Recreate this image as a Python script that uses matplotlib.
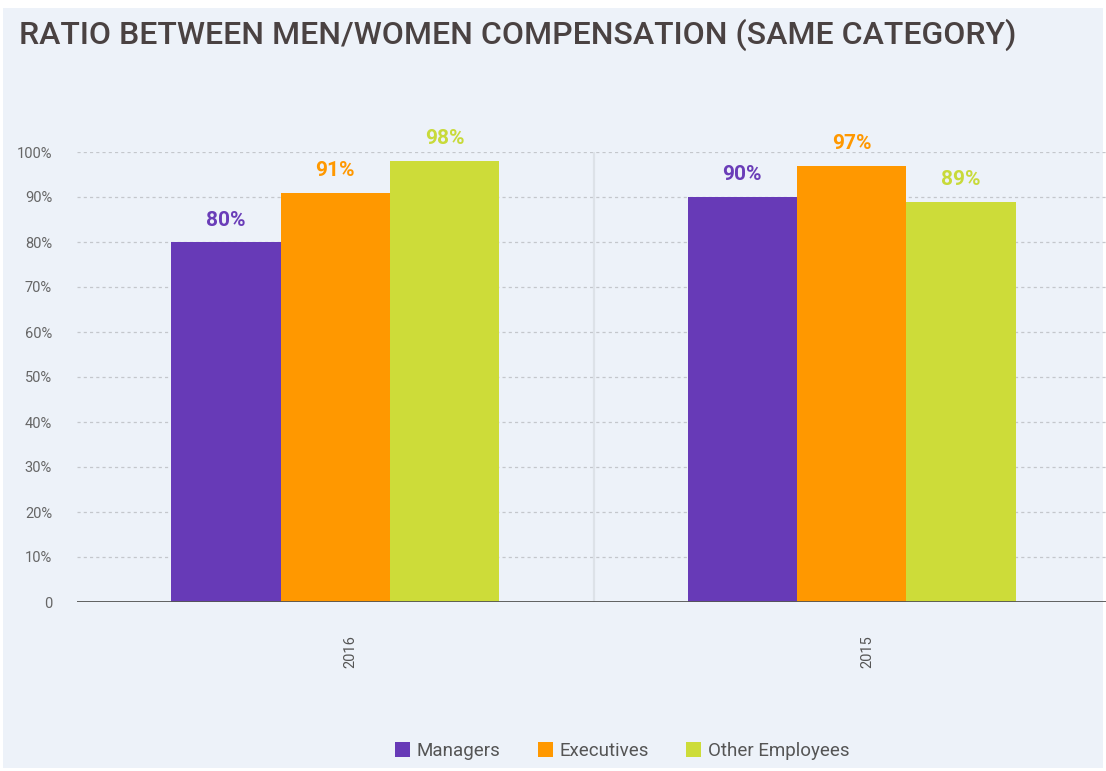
import numpy as np
import matplotlib.pyplot as plt
from matplotlib.patches import Rectangle

plt.rcParams['font.family'] = ['Roboto', 'DejaVu Sans']

# ratio of men/women pay per category (%)
years = ['2016', '2015']
series = ['Managers', 'Executives', 'Other Employees']
managers = [80, 90]
executives = [91, 97]
other_employees = [98, 89]
colors = ['#673AB7', '#FF9800', '#CDDC39']
label_colors = ['#6A3DB8', '#FF9800', '#C8DA3A']
y_ticks = [0, 10, 20, 30, 40, 50, 60, 70, 80, 90, 100]
y_tick_labels = ['0', '10%', '20%', '30%', '40%', '50%', '60%', '70%', '80%', '90%', '100%']

W, H = 1106, 771
bg = '#EDF2F9'
fig = plt.figure(figsize=(W / 100, H / 100), dpi=100)
fig.patch.set_facecolor('white')
fig.add_artist(Rectangle((3 / W, 3 / H), (W - 6) / W, (H - 11) / H,
                         transform=fig.transFigure, facecolor=bg, edgecolor='none', zorder=0))

fig.text(19 / W, 1 - 35 / H, 'RATIO BETWEEN MEN/WOMEN COMPENSATION (SAME CATEGORY)',
         fontsize=23, fontweight='medium', color='#4A4242', va='center', ha='left')

# plot area: 0 at y=602px, 100% at y=152px
left, right = 77, 1110
ax = fig.add_axes([left / W, 1 - 602 / H, (right - left) / W, 450 / H])
ax.set_facecolor('none')
ax.set_xlim(-0.5, 1.5)
ax.set_ylim(0, 100)

x = np.arange(len(years))
bw = 0.212
values = [managers, executives, other_employees]
for i, (name, vals) in enumerate(zip(series, values)):
    pos = x + (i - 1) * bw
    ax.bar(pos, vals, width=bw, color=colors[i], label=name, zorder=3)
    for px, v in zip(pos, vals):
        ax.annotate(f'{v}%', (px, v), xytext=(0, 9), textcoords='offset points',
                    ha='center', va='bottom', fontsize=15, fontweight='bold',
                    color=label_colors[i], annotation_clip=False)

for t in y_ticks[1:]:
    ax.axhline(t, color='#C4C7CC', lw=0.9, ls=(0, (2.5, 2.5)), zorder=1)
ax.axhline(0, color='#555555', lw=1.3, zorder=4)
ax.axvline(0.5, color='#DDE2E8', lw=1.6, zorder=1)

ax.set_yticks(y_ticks)
ax.set_yticklabels(y_tick_labels, fontsize=10.5, color='#666666')
ax.set_xticks(x + 0.03)
ax.set_xticklabels(years, rotation=90, fontsize=10.5, color='#555555')
ax.tick_params(axis='both', length=0)
ax.tick_params(axis='y', pad=18)
ax.tick_params(axis='x', pad=24)
for s in ax.spines.values():
    s.set_visible(False)

fig.legend(loc='center', bbox_to_anchor=(622 / W, 1 - 751 / H), ncol=3, frameon=False,
           fontsize=13.5, handlelength=0.8, handleheight=0.8, handletextpad=0.35,
           columnspacing=2.0, labelcolor='#555555')

fig.savefig('out.png', dpi=100, facecolor=fig.get_facecolor())
